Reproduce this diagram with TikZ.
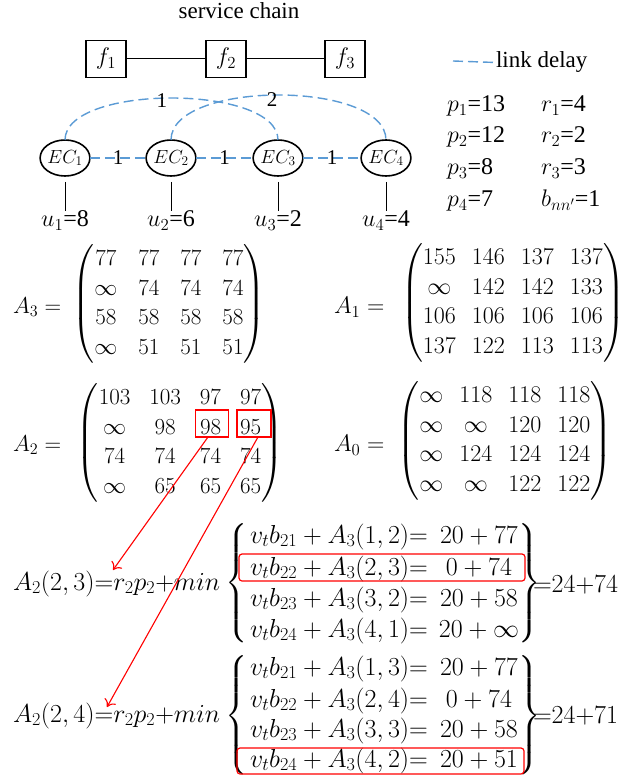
\RequirePackage{fix-cm}
\documentclass[tikz,border=0pt]{standalone}
\usepackage{amsmath}
\usepackage[no-math]{fontspec}
\newfontfamily\timesfont{Liberation Serif}
\usetikzlibrary{arrows.meta,shapes.geometric}
\definecolor{dblue}{HTML}{5B9BD5}
\newcommand\mymat[2]{{\renewcommand\arraystretch{1.15}\setlength\arraycolsep{#1}$\begin{pmatrix}#2\end{pmatrix}$}}
\newcommand\bigbrl{$\left\{\vrule height 66pt depth 54pt width 0pt\right.$}
\newcommand\bigbrr{$\left.\vrule height 66pt depth 54pt width 0pt\right\}$}
\begin{document}
\begin{tikzpicture}[x=1pt,y=-1pt,
  every node/.style={inner sep=0pt, outer sep=0pt},
  fnbox/.style={draw, line width=1.8pt, minimum width=40pt, minimum height=37pt, font=\fontsize{24}{28}\selectfont},
  ecnode/.style={draw, ellipse, line width=1.6pt, minimum width=44pt, minimum height=36pt, font=\fontsize{19}{22}\selectfont},
  delay/.style={draw=dblue, line width=1.4pt, dash pattern=on 10pt off 5pt},
  wire/.style={line width=1pt},
  tfont/.style={font=\timesfont\fontsize{23}{27}\selectfont},
  vfont/.style={font=\timesfont\fontsize{24}{28}\selectfont},
  tlabel/.style={font=\timesfont\fontsize{21}{25}\selectfont},
  mat/.style={font=\fontsize{23}{26}\selectfont},
  matb/.style={font=\fontsize{24}{26}\selectfont},
  eqf/.style={font=\fontsize{26}{30}\selectfont},
  redbox/.style={draw=red, line width=1.2pt, rounded corners=3pt},
  cellbox/.style={draw=red, line width=1.2pt},
  redarrow/.style={draw=red, line width=1.1pt, -{To[length=7pt,width=13pt]}}
]
\fill[white] (0,0) rectangle (641,775);
\useasboundingbox (0,0) rectangle (641,775);

% service chain
\node[tfont] (title) at (239,11) {service chain};
\node[fnbox] (f1) at (106,59) {$f_1$};
\node[fnbox] (f2) at (226,59) {$f_2$};
\node[fnbox] (f3) at (345,59) {$f_3$};
\draw[wire] (f1) -- (f2);
\draw[wire] (f2) -- (f3);

% legend
\coordinate (lg1) at (453,61);
\node[tfont, anchor=base west] (lgtext) at (496,68) {link delay};
\draw[delay] (lg1) -- (lgtext.west);

% parameters
\node[vfont, anchor=base west] (p1) at (447,112) {$p_1$=13};
\node[vfont, anchor=base west] (p2) at (447,143) {$p_2$=12};
\node[vfont, anchor=base west] (p3) at (447,175) {$p_3$=8};
\node[vfont, anchor=base west] (p4) at (447,207) {$p_4$=7};
\node[vfont, anchor=base west] (r1) at (541,112) {$r_1$=4};
\node[vfont, anchor=base west] (r2) at (541,143) {$r_2$=2};
\node[vfont, anchor=base west] (r3) at (541,175) {$r_3$=3};
\node[vfont, anchor=base west] (b1) at (541,207) {$b_{nn'}$=1};

% edge clouds
\node[ecnode] (ec1) at (65,158) {$EC_1$};
\node[ecnode] (ec2) at (171,158) {$EC_2$};
\node[ecnode] (ec3) at (278,158) {$EC_3$};
\node[ecnode] (ec4) at (386,158) {$EC_4$};
\draw[delay] (ec1) -- node[tlabel]{1} (ec2);
\draw[delay] (ec2) -- node[tlabel]{1} (ec3);
\draw[delay] (ec3) -- node[tlabel]{1} (ec4);
\draw[delay] (ec1.north) .. controls +(0,-56) and +(0,-56) .. node[tlabel, pos=0.47, yshift=-2pt]{1} (ec3.north);
\draw[delay] (ec2.north) .. controls +(0,-60) and +(0,-60) .. node[tlabel, pos=0.48, yshift=-4pt]{2} (ec4.north);

% users
\node[vfont, anchor=base] (u1) at (65,227) {$u_1$=8};
\node[vfont, anchor=base] (u2) at (171,227) {$u_2$=6};
\node[vfont, anchor=base] (u3) at (278,227) {$u_3$=2};
\node[vfont, anchor=base] (u4) at (386,227) {$u_4$=4};
\coordinate (l1) at (65,182);
\coordinate (l2) at (171,182);
\coordinate (l3) at (278,182);
\coordinate (l4) at (386,182);
\draw[wire] (l1) -- (u1.north);
\draw[wire] (l2) -- (u2.north);
\draw[wire] (l3) -- (u3.north);
\draw[wire] (l4) -- (u4.north);

% matrices
\node[mat, anchor=west] (a3l) at (13,307) {$A_3=$};
\node[mat] (a3) at (169,304) {\mymat{10.5pt}{77&77&77&77\\ \infty&74&74&74\\ 58&58&58&58\\ \infty&51&51&51}};
\node[matb, anchor=west] (a1l) at (334,307) {$A_1=$};
\node[matb] (a1) at (513,303) {\mymat{8pt}{155&146&137&137\\ \infty&142&142&133\\ 106&106&106&106\\ 137&122&113&113}};
\node[mat, anchor=west] (a2l) at (13,445) {$A_2=$};
\node[mat] (a2) at (180,443) {\mymat{9.5pt}{103&103&97&97\\ \infty&98&98&95\\ 74&74&74&74\\ \infty&65&65&65}};
\node[matb, anchor=west] (a0l) at (334,445) {$A_0=$};
\node[matb] (a0) at (505,441) {\mymat{8pt}{\infty&118&118&118\\ \infty&\infty&120&120\\ \infty&124&124&124\\ \infty&\infty&122&122}};
\node[cellbox, minimum width=33pt, minimum height=27pt] (b98) at (212,423.5) {};
\node[cellbox, minimum width=34pt, minimum height=27pt] (b95) at (254,423.5) {};

% equation 1
\node[eqf, anchor=base west] (lhs1) at (13,590) {$A_2(2,3){=}r_2p_2{+}min$};
\node[eqf] (lb1) at (237.5,583.5) {\bigbrl};
\node[eqf] (rb1) at (529,583.5) {\bigbrr};
\node[eqf, anchor=base west] (e1r1l) at (250,543) {$v_tb_{21}+A_3(1,2){=}$};
\node[eqf, anchor=base west] (e1r2l) at (250,575) {$v_tb_{22}+A_3(2,3){=}$};
\node[eqf, anchor=base west] (e1r3l) at (250,606) {$v_tb_{23}+A_3(3,2){=}$};
\node[eqf, anchor=base west] (e1r4l) at (250,637) {$v_tb_{24}+A_3(4,1){=}$};
\node[eqf, anchor=base] (e1r1r) at (479,543) {$20+77$};
\node[eqf, anchor=base] (e1r2r) at (479,575) {$0+74$};
\node[eqf, anchor=base] (e1r3r) at (479,606) {$20+58$};
\node[eqf, anchor=base] (e1r4r) at (479,637) {$20+\infty$};
\node[eqf, anchor=base west] (res1) at (533,592) {${=}24{+}74$};
\node[redbox, minimum width=286pt, minimum height=27pt] (hl1) at (382,567.5) {};

% equation 2
\node[eqf, anchor=base west] (lhs2) at (13,722) {$A_2(2,4){=}r_2p_2{+}min$};
\node[eqf] (lb2) at (237.5,716) {\bigbrl};
\node[eqf] (rb2) at (529,716) {\bigbrr};
\node[eqf, anchor=base west] (e2r1l) at (250,675) {$v_tb_{21}+A_3(1,3){=}$};
\node[eqf, anchor=base west] (e2r2l) at (250,707) {$v_tb_{22}+A_3(2,4){=}$};
\node[eqf, anchor=base west] (e2r3l) at (250,737) {$v_tb_{23}+A_3(3,3){=}$};
\node[eqf, anchor=base west] (e2r4l) at (250,767) {$v_tb_{24}+A_3(4,2){=}$};
\node[eqf, anchor=base] (e2r1r) at (479,675) {$20+77$};
\node[eqf, anchor=base] (e2r2r) at (479,707) {$0+74$};
\node[eqf, anchor=base] (e2r3r) at (479,737) {$20+58$};
\node[eqf, anchor=base] (e2r4r) at (479,767) {$20+51$};
\node[eqf, anchor=base west] (res2) at (533,723) {${=}24{+}71$};
\node[redbox, minimum width=287pt, minimum height=26pt] (hl2) at (380.5,761) {};

% arrows
\coordinate (t1) at (113,570);
\coordinate (t2) at (107,707);
\draw[redarrow] ([xshift=-4pt]b98.south) -- (t1);
\draw[redarrow] ([xshift=4pt]b95.south) -- (t2);
\end{tikzpicture}
\end{document}
